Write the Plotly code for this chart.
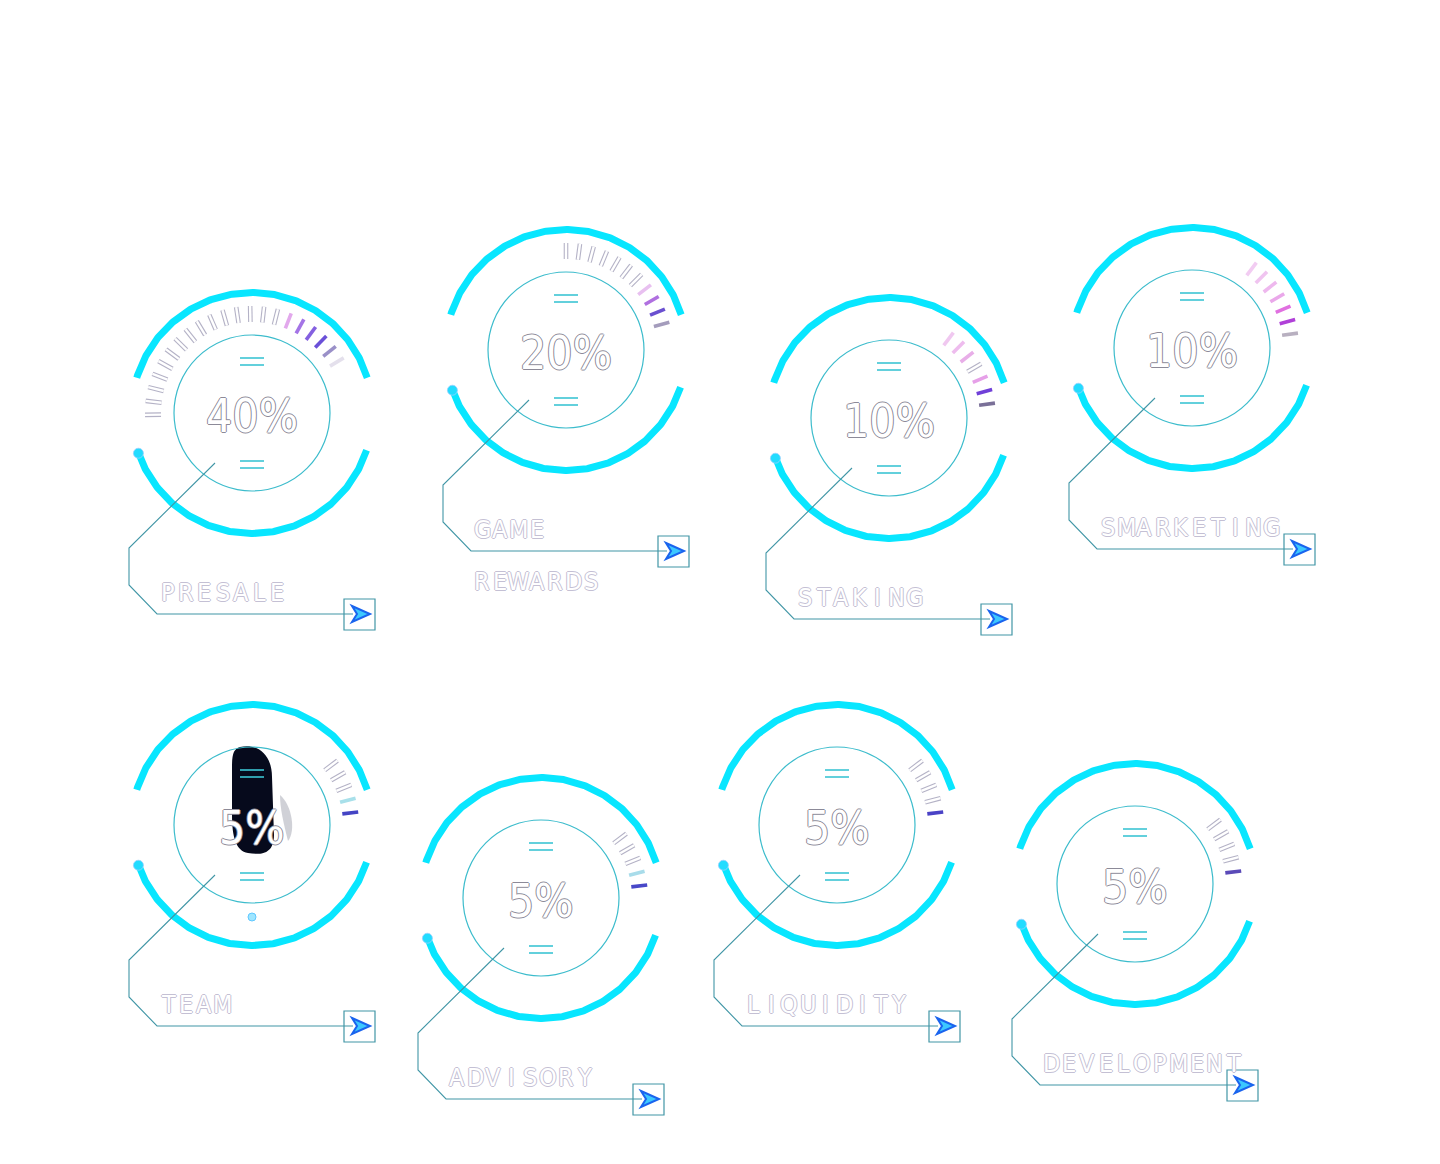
import numpy as np
import plotly.graph_objects as go

# ---------------- data ----------------
labels = ["PRESALE", "GAME REWARDS", "STAKING", "SMARKETING",
          "TEAM", "ADVISORY", "LIQUIDITY", "DEVELOPMENT"]
values = [40, 20, 10, 10, 5, 5, 5, 5]
value_text = ["40%", "20%", "10%", "10%", "5%", "5%", "5%", "5%"]
tick_counts = [21, 11, 7, 7, 5, 5, 5, 5]

# ---------------- layout (pixel positions of the widgets) ----------------
centers_x = [252, 566, 889, 1192, 252, 541, 837, 1135]
centers_y = [413, 350, 418, 348, 825, 898, 825, 884]
tick_end_deg = [31, 15, 8, 8, 7, 7, 7, 7]
# colours of the last ticks, listed from the last tick backwards
tick_colors = [
    ["#e4e0ec", "#9a90c8", "#6a50d8", "#8460e0", "#a474e6", "#e2a8ec"],
    ["#a49cbc", "#6a50d0", "#b070e0", "#e8c0f0"],
    ["#7a7098", "#7040d8", "#e6a0e8", None, "#e8aee8", "#eebcee", "#f0c8f0"],
    ["#b8b0c0", "#b040d8", "#e070e0", "#eaa8ea", "#eeb8ee", "#f0c4f0", "#f2ccf2"],
    ["#4444c4", "#a8e0ea"],
    ["#4848c8", "#a8dcea"],
    ["#4a42c6"],
    ["#5a4ab8"],
]

CYAN = "#08e6ff"
TEAL = "#3cbccc"
LINE = "#4196a6"
FONT = "DejaVu Sans Condensed, Liberation Sans Narrow, sans-serif"

fig = go.Figure()
shapes = []
annotations = []

R_OUT = 120.5
R_IN = 78


def arc_xy(cx, cy, r, a0, a1, n=240):
    t = np.radians(np.linspace(a0, a1, n))
    return cx + r * np.cos(t), cy - r * np.sin(t)


for i, lab in enumerate(labels):
    cx, cy = centers_x[i], centers_y[i]

    # outer arcs
    for a0, a1 in [(17, 163), (198, 342)]:
        x, y = arc_xy(cx, cy, R_OUT, a0, a1)
        fig.add_trace(go.Scatter(x=x, y=y, mode="lines",
                                 line=dict(color=CYAN, width=7),
                                 hoverinfo="skip", showlegend=False))
    # thicker start of the bottom arc
    bx, by = arc_xy(cx, cy, R_OUT, 199.5, 199.5, 1)
    fig.add_trace(go.Scatter(x=bx, y=by, mode="markers",
                             marker=dict(color="#22dcff", size=10,
                                         line=dict(color="#9ad0ff", width=0.8)),
                             hoverinfo="skip", showlegend=False))

    # inner circle
    shapes.append(dict(type="circle", xref="x", yref="y",
                       x0=cx - R_IN, x1=cx + R_IN, y0=cy - R_IN, y1=cy + R_IN,
                       line=dict(color=TEAL, width=1.2)))

    # double dashes above / below the value
    for dy in (-55, -48, 48, 55):
        shapes.append(dict(type="line", xref="x", yref="y",
                           x0=cx - 12, x1=cx + 12, y0=cy + dy, y1=cy + dy,
                           line=dict(color="#3cc4d4", width=1.6)))

    # tick marks
    n = tick_counts[i]
    cols = tick_colors[i]
    for k in range(n):
        ang = tick_end_deg[i] + (n - 1 - k) * 7.5
        from_end = n - 1 - k
        t = np.radians(ang)
        x0, y0 = cx + 91 * np.cos(t), cy - 91 * np.sin(t)
        x1, y1 = cx + 107 * np.cos(t), cy - 107 * np.sin(t)
        c = cols[from_end] if from_end < len(cols) else None
        if c is None:
            shapes.append(dict(type="line", xref="x", yref="y", x0=x0, y0=y0, x1=x1, y1=y1,
                               line=dict(color="#b4b2c6", width=4.6)))
            shapes.append(dict(type="line", xref="x", yref="y", x0=x0, y0=y0, x1=x1, y1=y1,
                               line=dict(color="#ffffff", width=2.4)))
        else:
            shapes.append(dict(type="line", xref="x", yref="y", x0=x0, y0=y0, x1=x1, y1=y1,
                               line=dict(color=c, width=3.6)))

    # connector line
    path = (f"M {cx-37},{cy+50} L {cx-123},{cy+135} L {cx-123},{cy+172} "
            f"L {cx-95},{cy+201} L {cx+101},{cy+201}")
    shapes.append(dict(type="path", xref="x", yref="y", path=path,
                       line=dict(color=LINE, width=1.1)))
    # arrow box
    shapes.append(dict(type="rect", xref="x", yref="y",
                       x0=cx + 92, x1=cx + 123, y0=cy + 186, y1=cy + 217,
                       line=dict(color=LINE, width=1.2)))
    arrow = (f"M {cx+100},{cy+193} L {cx+118},{cy+201} L {cx+100},{cy+209} "
             f"L {cx+105},{cy+201} Z")
    shapes.append(dict(type="path", xref="x", yref="y", path=arrow,
                       fillcolor="#3cc8ff", line=dict(color="#1a64ee", width=2)))

    # value text
    pg = "#8c8a98"
    annotations.append(dict(
        x=cx, y=cy + 3, xref="x", yref="y", text=value_text[i], showarrow=False,
        xanchor="center", yanchor="middle",
        font=dict(family=FONT, size=46, color="#ffffff",
                  shadow=f"1px 0 0 {pg}, -1px 0 0 {pg}, 0 1px 0 {pg}, 0 -1px 0 {pg}")))

    # label letters (wide tracking)
    words = lab.split(" ") if lab == "GAME REWARDS" else [lab]
    for li, word in enumerate(words):
        for j, ch in enumerate(word):
            lg = "#c4c0d4"
            annotations.append(dict(
                x=cx - 84 + j * 18.2, y=cy + 179 + li * 52, xref="x", yref="y",
                text=ch, showarrow=False, xanchor="center", yanchor="middle",
                font=dict(family=FONT, size=25, color="#ffffff",
                          shadow=f"1px 0 0 {lg}, -1px 0 0 {lg}, 0 1px 0 {lg}, 0 -1px 0 {lg}")))

# dark smudge behind TEAM value
tx, ty = centers_x[4], centers_y[4]
blob = (f"M {tx-12},{ty-78} C {tx+6},{ty-82} {tx+20},{ty-70} {tx+20},{ty-48} "
        f"L {tx+22},{ty+10} C {tx+22},{ty+30} {tx+8},{ty+30} {tx-4},{ty+28} "
        f"C {tx-16},{ty+26} {tx-20},{ty+12} {tx-20},{ty-10} L {tx-20},{ty-58} "
        f"C {tx-20},{ty-72} {tx-18},{ty-76} {tx-12},{ty-78} Z")
shapes.insert(0, dict(type="path", xref="x", yref="y", path=blob, layer="below",
                      fillcolor="#060a1c", line=dict(width=0)))
smudge = (f"M {tx+28},{ty-30} C {tx+40},{ty-20} {tx+44},{ty+6} {tx+36},{ty+16} "
          f"C {tx+32},{ty} {tx+28},{ty-16} {tx+28},{ty-30} Z")
shapes.insert(0, dict(type="path", xref="x", yref="y", path=smudge, layer="below",
                      fillcolor="rgba(120,124,140,0.35)", line=dict(width=0)))
fig.add_trace(go.Scatter(x=[tx], y=[ty + 92], mode="markers",
                         marker=dict(color="#9fe6ff", size=8,
                                     line=dict(color="#60c8ff", width=1)),
                         hoverinfo="skip", showlegend=False))

fig.update_layout(
    width=1440, height=1164,
    margin=dict(l=0, r=0, t=0, b=0),
    paper_bgcolor="#ffffff", plot_bgcolor="#ffffff",
    xaxis=dict(range=[0, 1440], visible=False, fixedrange=True),
    yaxis=dict(range=[1164, 0], visible=False, fixedrange=True),
    shapes=shapes, annotations=annotations, showlegend=False,
)

fig.write_html("out.html")
